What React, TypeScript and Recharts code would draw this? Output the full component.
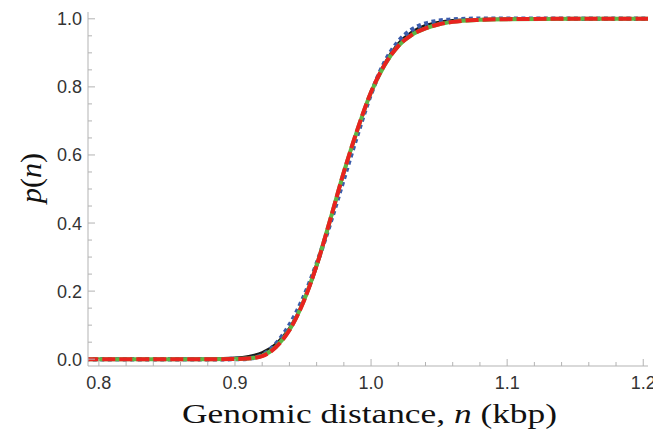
import { LineChart, Line, XAxis, YAxis } from 'recharts'

// genomic distance n (kbp)
const nValues = [0.79, 0.85, 0.88, 0.9, 0.91, 0.92, 0.93, 0.94, 0.95, 0.96, 0.97, 0.98, 0.99, 1.0, 1.01, 1.02, 1.03, 1.04, 1.05, 1.06, 1.08, 1.1, 1.15, 1.21]

const blackCurve = [0, 0, 0.001, 0.004, 0.009, 0.02, 0.045, 0.092, 0.165, 0.27, 0.405, 0.545, 0.673, 0.785, 0.87, 0.928, 0.962, 0.981, 0.991, 0.996, 0.999, 1, 1, 1]
const blueCurve = [0, 0, 0, 0.0003, 0.002, 0.012, 0.045, 0.1, 0.178, 0.28, 0.4, 0.53, 0.66, 0.78, 0.872, 0.933, 0.968, 0.986, 0.994, 0.998, 1, 1, 1, 1]
const greenCurve = [0, 0, 0, 0.0005, 0.002, 0.01, 0.036, 0.086, 0.166, 0.276, 0.41, 0.55, 0.674, 0.784, 0.864, 0.92, 0.953, 0.972, 0.984, 0.991, 0.997, 0.999, 1, 1]
const redCurve = [0, 0, 0, 0.0005, 0.002, 0.009, 0.035, 0.085, 0.165, 0.275, 0.41, 0.55, 0.675, 0.785, 0.865, 0.92, 0.953, 0.972, 0.984, 0.991, 0.997, 0.999, 1, 1]

const xTicks = [0.8, 0.82, 0.84, 0.86, 0.88, 0.9, 0.92, 0.94, 0.96, 0.98, 1.0, 1.02, 1.04, 1.06, 1.08, 1.1, 1.12, 1.14, 1.16, 1.18, 1.2]
const yTicks = [0, 0.05, 0.1, 0.15, 0.2, 0.25, 0.3, 0.35, 0.4, 0.45, 0.5, 0.55, 0.6, 0.65, 0.7, 0.75, 0.8, 0.85, 0.9, 0.95, 1.0]

const data = nValues.map((n, i) => ({
  n,
  black: blackCurve[i],
  blue: blueCurve[i],
  green: greenCurve[i],
  red: redCurve[i],
}))

const FRAME = '#b3b3b3'
const LABEL = '#333333'
const SANS = '"Liberation Sans", Arial, sans-serif'
const SERIF = '"Liberation Serif", "Times New Roman", serif'

const isMajor = (v: number, step: number) => Math.abs(v / step - Math.round(v / step)) < 1e-6

const XTick = ({ x, y, payload, top }: any) => {
  const major = isMajor(payload.value, 0.1)
  const len = major ? 7 : 4
  const dir = top ? 1 : -1
  return (
    <g>
      <line x1={x} x2={x} y1={y} y2={y + dir * len} stroke={FRAME} />
      {!top && major && (
        <text x={x} y={y + 23} textAnchor="middle" fill={LABEL} fontSize={18} fontFamily={SANS}>
          {payload.value.toFixed(1)}
        </text>
      )}
    </g>
  )
}

const YTick = ({ x, y, payload, right }: any) => {
  const major = isMajor(payload.value, 0.2)
  const len = major ? 7 : 4
  const dir = right ? -1 : 1
  return (
    <g>
      <line x1={x} x2={x + dir * len} y1={y} y2={y} stroke={FRAME} />
      {!right && major && (
        <text x={x - 6} y={y + 6.5} textAnchor="end" fill={LABEL} fontSize={18} fontFamily={SANS}>
          {payload.value.toFixed(1)}
        </text>
      )}
    </g>
  )
}

export default function App() {
  return (
    <div style={{ position: 'absolute', left: 0, top: 0, width: 653, height: 429, background: '#fff' }}>
      <LineChart width={653} height={429} data={data} margin={{ top: 12, right: 5, bottom: 0, left: 0 }}>
        <XAxis
          dataKey="n"
          type="number"
          domain={[0.792, 1.2035]}
          allowDataOverflow
          ticks={xTicks}
          interval={0}
          height={63}
          tickSize={0}
          tickMargin={0}
          stroke={FRAME}
          tick={<XTick />}
        />
        <XAxis
          xAxisId="top"
          orientation="top"
          type="number"
          domain={[0.792, 1.2035]}
          allowDataOverflow
          ticks={xTicks}
          interval={0}
          height={0}
          tickSize={0}
          tickMargin={0}
          stroke={FRAME}
          tick={<XTick top />}
        />
        <YAxis
          type="number"
          domain={[-0.02, 1.02]}
          allowDataOverflow
          ticks={yTicks}
          interval={0}
          width={88}
          tickSize={0}
          tickMargin={0}
          stroke={FRAME}
          tick={<YTick />}
        />
        <YAxis
          yAxisId="right"
          orientation="right"
          type="number"
          domain={[-0.02, 1.02]}
          allowDataOverflow
          ticks={yTicks}
          interval={0}
          width={0}
          tickSize={0}
          tickMargin={0}
          stroke={FRAME}
          tick={<YTick right />}
        />
        <Line type="monotone" dataKey="black" stroke="#1a1a1a" strokeWidth={2.5} dot={false} isAnimationActive={false} />
        <Line type="monotone" dataKey="blue" stroke="#3a5bab" strokeWidth={4.5} strokeDasharray="4 3.5" dot={false} isAnimationActive={false} />
        <Line type="monotone" dataKey="green" stroke="#5db644" strokeWidth={4} dot={false} isAnimationActive={false} />
        <Line type="monotone" dataKey="red" stroke="#e8231f" strokeWidth={4} strokeDasharray="13 4" dot={false} isAnimationActive={false} />
      </LineChart>
      <svg width={653} height={429} style={{ position: 'absolute', left: 0, top: 0, pointerEvents: 'none' }}>
        <text
          x={369.5}
          y={423}
          textAnchor="middle"
          fill="#111"
          fontSize={28}
          fontFamily={SERIF}
          textLength={375}
          lengthAdjust="spacingAndGlyphs"
        >
          Genomic distance, <tspan fontStyle="italic">n</tspan> (kbp)
        </text>
        <text
          transform="translate(41,178) rotate(-90)"
          textAnchor="middle"
          fill="#111"
          fontSize={30}
          fontFamily={SERIF}
        >
          <tspan fontStyle="italic">p</tspan>(<tspan fontStyle="italic">n</tspan>)
        </text>
      </svg>
    </div>
  )
}
